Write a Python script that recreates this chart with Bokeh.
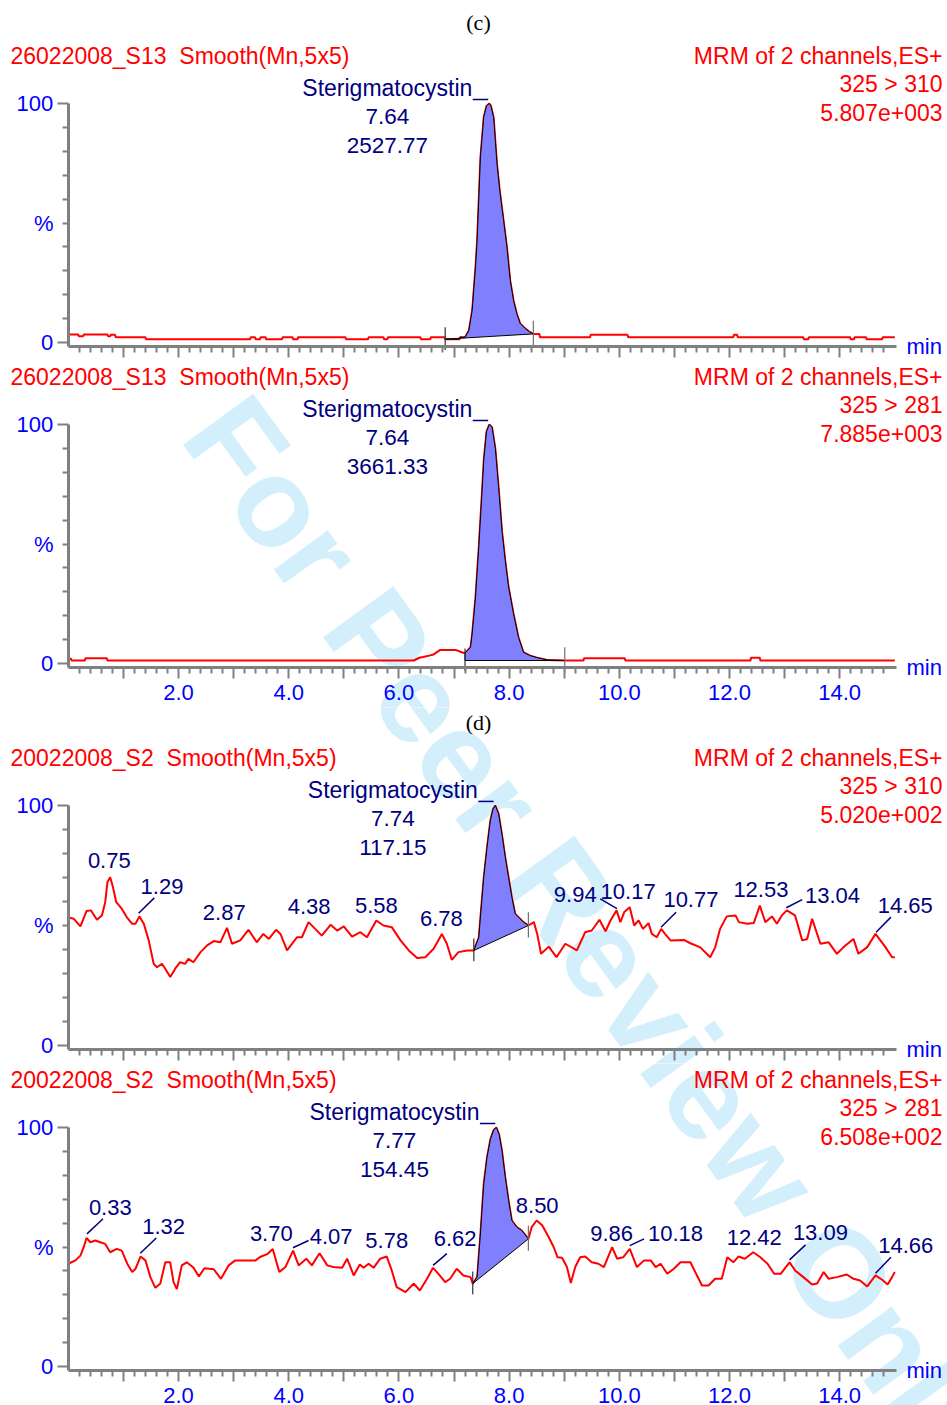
import math
from bokeh.plotting import figure
from bokeh.models import ColumnDataSource, Label, LabelSet, FixedTicker, Range1d
from bokeh.layouts import column
from bokeh.embed import file_html
from bokeh.resources import INLINE
from bokeh.core.properties import value

# ------------------------------------------------------------------ data
# (c) sample 26022008_S13, channel 325 > 310   (time min, intensity %)
s13_310_trace = [
    (0.02, 3.3), (0.18, 3.3), (0.19, 2.6), (0.27, 2.6), (0.28, 3.3), (0.71, 3.3), (0.72, 2.6),
    (0.76, 2.6), (0.77, 3.2), (0.85, 3.2), (0.86, 2.2), (1.40, 2.2), (1.41, 1.4), (3.30, 1.4),
    (3.31, 2.2), (3.39, 2.2), (3.40, 1.4), (3.48, 1.4), (3.49, 2.2), (3.58, 2.2), (3.59, 1.4),
    (3.88, 1.4), (3.89, 2.2), (4.07, 2.2), (4.08, 1.4), (4.16, 1.4), (4.17, 2.2), (5.03, 2.2),
    (5.04, 1.4), (5.44, 1.4), (5.45, 2.2), (5.72, 2.2), (5.73, 1.4), (5.79, 1.4), (5.80, 2.2),
    (6.39, 2.2), (6.40, 1.4), (6.57, 1.4), (6.58, 2.2), (6.83, 2.2), (6.84, 1.4), (7.10, 1.4),
    (7.11, 2.2), (7.20, 2.2), (7.27, 5.0), (7.33, 13.4), (7.39, 31.5), (7.42, 42.7), (7.48, 77.5),
    (7.54, 94.3), (7.59, 99.0), (7.64, 100.0), (7.67, 99.0), (7.72, 94.0), (7.78, 74.8),
    (7.83, 63.6), (7.90, 51.0), (7.96, 40.0), (8.02, 26.0), (8.08, 17.6), (8.14, 12.0),
    (8.20, 8.0), (8.29, 5.9), (8.38, 4.3), (8.44, 3.6), (8.55, 3.6), (8.56, 2.2), (9.47, 2.2),
    (9.48, 3.2), (10.15, 3.2), (10.16, 2.2), (12.07, 2.2), (12.08, 3.2), (12.14, 3.2),
    (12.15, 2.2), (13.34, 2.2), (13.35, 1.4), (13.43, 1.4), (13.44, 2.2), (14.19, 2.2),
    (14.20, 1.4), (14.26, 1.4), (14.27, 2.2), (14.48, 2.2), (14.49, 1.4), (14.77, 1.4),
    (14.78, 2.2), (15.0, 2.2),
]

# (c) sample 26022008_S13, channel 325 > 281
s13_281_trace = [
    (0.02, 2.0), (0.05, 2.0), (0.06, 1.25), (0.30, 1.25), (0.31, 2.2), (0.70, 2.2), (0.71, 1.25),
    (6.27, 1.25), (6.37, 2.4), (6.44, 2.7), (6.55, 3.3), (6.63, 3.8), (6.75, 5.7), (7.03, 5.7),
    (7.14, 4.7), (7.20, 4.3), (7.30, 6.8), (7.33, 12.4), (7.39, 27.7), (7.45, 48.7), (7.51, 72.4),
    (7.54, 85.0), (7.59, 97.0), (7.64, 100.0), (7.69, 98.9), (7.75, 90.0), (7.81, 73.5),
    (7.87, 55.6), (7.93, 43.0), (7.99, 32.0), (8.08, 20.8), (8.17, 11.0), (8.26, 4.7), (8.38, 3.3),
    (8.51, 2.4), (8.69, 1.5), (9.01, 1.25), (9.35, 1.25), (9.36, 2.2), (10.10, 2.2), (10.11, 1.25),
    (12.38, 1.25), (12.39, 2.4), (12.55, 2.4), (12.56, 1.25), (15.0, 1.25),
]

# (d) sample 20022008_S2, channel 325 > 310
s2_310_trace = [
    (0.02, 53.2), (0.10, 52.8), (0.22, 49.6), (0.33, 56.0), (0.41, 56.3), (0.52, 52.4), (0.61, 54.2),
    (0.67, 59.7), (0.71, 68.0), (0.76, 70.1), (0.81, 66.0), (0.87, 59.7), (0.97, 57.0), (1.06, 53.5),
    (1.16, 50.7), (1.22, 50.7), (1.29, 53.8), (1.37, 50.7), (1.46, 43.8), (1.55, 34.0), (1.61, 32.6),
    (1.70, 34.0), (1.76, 32.0), (1.85, 28.5), (1.94, 32.0), (2.03, 34.7), (2.12, 34.0), (2.18, 36.1),
    (2.27, 34.7), (2.40, 38.9), (2.52, 41.7), (2.64, 43.5), (2.76, 43.0), (2.83, 46.5), (2.88, 49.0),
    (2.97, 42.4), (3.12, 43.8), (3.27, 48.2), (3.42, 43.0), (3.54, 46.5), (3.64, 44.4), (3.77, 48.2),
    (3.85, 46.5), (3.97, 39.6), (4.08, 43.0), (4.15, 45.1), (4.24, 45.1), (4.36, 51.4), (4.48, 48.6),
    (4.60, 45.8), (4.76, 50.3), (4.88, 47.9), (5.00, 49.6), (5.15, 45.4), (5.30, 47.2), (5.42, 45.1),
    (5.59, 52.1), (5.72, 50.0), (5.87, 49.3), (6.03, 43.8), (6.18, 39.6), (6.33, 36.5), (6.48, 36.8),
    (6.63, 40.3), (6.78, 46.5), (6.87, 42.4), (6.96, 35.7), (7.08, 38.9), (7.24, 39.6), (7.36, 39.6),
    (7.45, 45.0), (7.48, 53.5), (7.54, 70.0), (7.60, 82.6), (7.66, 93.8), (7.71, 98.6), (7.75, 100.0),
    (7.81, 96.5), (7.87, 88.0), (7.93, 78.5), (7.99, 70.0), (8.05, 61.8), (8.11, 54.9), (8.17, 53.5),
    (8.26, 51.4), (8.35, 50.0), (8.45, 51.4), (8.51, 46.5), (8.58, 38.2), (8.72, 41.2), (8.86, 36.8),
    (9.02, 42.4), (9.23, 39.6), (9.38, 47.2), (9.50, 47.9), (9.64, 52.4), (9.75, 47.6), (9.84, 52.1),
    (9.95, 56.3), (10.02, 51.4), (10.09, 55.6), (10.19, 57.6), (10.27, 50.0), (10.35, 52.1),
    (10.43, 48.6), (10.53, 51.0), (10.59, 46.5), (10.68, 45.1), (10.76, 48.6), (10.83, 46.5),
    (10.93, 43.8), (11.17, 44.0), (11.29, 42.6), (11.47, 40.9), (11.65, 36.8), (11.74, 40.9),
    (11.83, 48.6), (11.95, 53.8), (12.11, 54.2), (12.17, 51.4), (12.32, 50.7), (12.44, 51.0),
    (12.55, 58.3), (12.65, 51.4), (12.77, 53.8), (12.86, 50.7), (12.95, 54.2), (13.04, 56.3),
    (13.19, 54.2), (13.32, 43.8), (13.41, 44.4), (13.50, 52.8), (13.56, 48.6), (13.65, 42.4),
    (13.80, 43.0), (13.95, 38.2), (14.07, 41.0), (14.25, 44.4), (14.34, 38.2), (14.50, 41.0),
    (14.65, 46.5), (14.83, 41.0), (14.95, 36.8), (15.0, 36.8),
]

# (d) sample 20022008_S2, channel 325 > 281
s2_281_trace = [
    (0.02, 43.2), (0.13, 44.4), (0.22, 46.4), (0.28, 49.9), (0.33, 53.8), (0.40, 52.0), (0.49, 52.7),
    (0.58, 52.0), (0.67, 51.3), (0.76, 47.8), (0.88, 49.2), (0.97, 48.5), (1.07, 43.0), (1.16, 39.5),
    (1.22, 40.9), (1.31, 46.0), (1.40, 44.4), (1.49, 37.4), (1.58, 32.9), (1.67, 34.7), (1.76, 43.6),
    (1.85, 43.6), (1.91, 35.3), (1.97, 32.4), (2.06, 42.3), (2.15, 43.6), (2.27, 41.4), (2.37, 37.7),
    (2.47, 41.1), (2.64, 40.7), (2.77, 36.7), (2.91, 42.3), (3.03, 44.4), (3.40, 44.4), (3.48, 45.8),
    (3.61, 47.0), (3.71, 49.2), (3.83, 39.5), (3.94, 41.6), (4.08, 48.5), (4.18, 42.3), (4.32, 45.1),
    (4.42, 42.3), (4.56, 47.4), (4.70, 42.3), (4.81, 41.6), (4.97, 41.3), (5.06, 45.1), (5.18, 38.1),
    (5.29, 42.7), (5.36, 41.3), (5.45, 43.0), (5.54, 41.3), (5.66, 45.1), (5.78, 46.0), (5.87, 40.2),
    (5.96, 33.2), (6.12, 31.1), (6.27, 34.7), (6.38, 31.8), (6.51, 36.7), (6.62, 41.3), (6.74, 38.1),
    (6.84, 35.3), (6.93, 36.7), (7.05, 40.9), (7.17, 38.1), (7.30, 37.4), (7.34, 34.7), (7.42, 37.4),
    (7.48, 55.5), (7.54, 76.4), (7.60, 87.6), (7.66, 95.0), (7.72, 99.0), (7.77, 100.0), (7.82, 97.0),
    (7.87, 90.4), (7.93, 79.2), (7.99, 69.5), (8.05, 61.1), (8.14, 58.3), (8.23, 56.9), (8.35, 53.4),
    (8.41, 58.3), (8.50, 61.1), (8.60, 59.1), (8.72, 54.1), (8.81, 49.9), (8.88, 45.7), (8.96, 45.5),
    (9.05, 41.6), (9.12, 34.9), (9.20, 41.6), (9.29, 45.7), (9.38, 46.0), (9.50, 43.6), (9.62, 43.0),
    (9.72, 41.6), (9.87, 49.9), (9.96, 45.1), (10.07, 45.7), (10.19, 49.2), (10.32, 41.6),
    (10.45, 44.4), (10.57, 44.4), (10.66, 41.6), (10.75, 43.0), (10.87, 38.8), (10.99, 40.9),
    (11.11, 43.6), (11.29, 43.6), (11.41, 38.1), (11.50, 33.9), (11.62, 33.9), (11.74, 36.7),
    (11.86, 36.7), (11.96, 45.7), (12.07, 43.6), (12.16, 46.0), (12.28, 45.1), (12.43, 47.8),
    (12.56, 45.7), (12.69, 43.0), (12.81, 38.8), (12.93, 38.8), (13.09, 43.6), (13.19, 40.2),
    (13.34, 37.4), (13.50, 34.3), (13.59, 34.7), (13.71, 39.5), (13.80, 36.7), (13.95, 37.4),
    (14.13, 38.5), (14.25, 36.7), (14.37, 36.0), (14.50, 33.5), (14.65, 38.1), (14.77, 36.3),
    (14.87, 34.3), (14.95, 37.4), (15.0, 39.5),
]

# integration (start time, start baseline %, end time, end baseline %)
s13_310_integration = (6.84, 1.4, 8.44, 3.6)
s13_281_integration = (7.20, 1.25, 9.01, 1.25)
s2_310_integration = (7.36, 39.6, 8.35, 50.0)
s2_281_integration = (7.34, 34.7, 8.35, 53.4)

# labelled noise peaks: text, label x, label y
s2_310_peak_labels = [
    ("0.75", 0.744, 77.1), ("1.29", 1.70, 66.3), ("2.87", 2.83, 55.4), ("4.38", 4.37, 57.9),
    ("5.58", 5.59, 58.3), ("6.78", 6.77, 52.9), ("9.94", 9.20, 62.8), ("10.17", 10.16, 64.3),
    ("10.77", 11.30, 60.8), ("12.53", 12.57, 64.9), ("13.04", 13.87, 62.5), ("14.65", 15.19, 58.3),
]
s2_310_leaders = [  # x0, y0, x1, y1
    (1.276, 55.1, 1.561, 61.5), (9.655, 61.1, 9.958, 57.0), (10.757, 49.3, 11.03, 55.5),
    (13.03, 57.4, 13.32, 60.8), (14.66, 47.2, 14.93, 53.5),
]
s2_281_peak_labels = [
    ("0.33", 0.762, 66.7), ("1.32", 1.73, 58.6), ("3.70", 3.684, 55.5), ("4.07", 4.77, 54.4),
    ("5.78", 5.78, 52.7), ("6.62", 7.02, 53.4), ("8.50", 8.51, 67.4), ("9.86", 9.86, 55.8),
    ("10.18", 11.02, 55.5), ("12.42", 12.45, 53.8), ("13.09", 13.65, 56.2), ("14.66", 15.20, 50.6),
]
s2_281_leaders = [
    (0.339, 55.5, 0.63, 61.8), (1.307, 47.4, 1.597, 53.8), (4.078, 49.7, 4.36, 52.7),
    (6.62, 42.3, 6.87, 47.2), (10.19, 50.6, 10.45, 53.4), (13.09, 44.6, 13.38, 50.9),
    (14.65, 39.0, 14.93, 45.7),
]

panels = [
    dict(sample="26022008_S13", transition="325 > 310", intensity="5.807e+003",
         trace=s13_310_trace, rt="7.64", area="2527.77", integ=s13_310_integration,
         labels=[], leaders=[], tick_labels=False, caption="(c)"),
    dict(sample="26022008_S13", transition="325 > 281", intensity="7.885e+003",
         trace=s13_281_trace, rt="7.64", area="3661.33", integ=s13_281_integration,
         labels=[], leaders=[], tick_labels=True, caption=None),
    dict(sample="20022008_S2", transition="325 > 310", intensity="5.020e+002",
         trace=s2_310_trace, rt="7.74", area="117.15", integ=s2_310_integration,
         labels=s2_310_peak_labels, leaders=s2_310_leaders, tick_labels=False, caption="(d)"),
    dict(sample="20022008_S2", transition="325 > 281", intensity="6.508e+002",
         trace=s2_281_trace, rt="7.77", area="154.45", integ=s2_281_integration,
         labels=s2_281_peak_labels, leaders=s2_281_leaders, tick_labels=True, caption=None),
]
COMPOUND = "Sterigmatocystin"

# ------------------------------------------------------------------ layout / style
W = 947
X0_PX = 67.8          # pixel of t = 0
PXM = 55.1            # pixels per minute
geo = [  # page-pixel geometry of each panel
    dict(top=0, height=362, y0=342, axis=346, s=2.39, cap_y=22),
    dict(top=362, height=345, y0=663, axis=667, s=2.39, cap_y=None),
    dict(top=707, height=356, y0=1045, axis=1049, s=2.40, cap_y=722),
    dict(top=1063, height=342, y0=1366, axis=1370, s=2.39, cap_y=None),
]
RED, BLUE, NAVY, GREY = "#ff0000", "#0000ff", "#000080", "#808080"
FILL = "#8080ff"
WM_COLOR = "#d3effb"
SANS, SERIF = "Liberation Sans", "Liberation Serif"
WM_X, WM_Y, WM_ANGLE, WM_SIZE = 213, 412, -54.0, "126px"


def px_to_min(px):
    return (px - X0_PX) / PXM


def build(d, g):
    s = g["s"]
    ylo = (g["y0"] - (g["top"] + g["height"])) / s
    yhi = (g["y0"] - g["top"]) / s
    y_axis_pos = (g["y0"] - g["axis"]) / s
    p = figure(width=W, height=g["height"], x_range=Range1d(px_to_min(0), px_to_min(W)),
               y_range=Range1d(ylo, yhi), output_backend="svg", toolbar_location=None,
               min_border_left=0, min_border_right=0, min_border_top=0, min_border_bottom=0)
    p.grid.visible = False
    p.outline_line_color = None
    p.background_fill_color = "white"
    p.border_fill_color = "white"

    # watermark (continuous across panels)
    p.add_layout(Label(x=px_to_min(WM_X), y=(g["y0"] - WM_Y) / s, text="For Peer Review Only",
                       angle=math.radians(WM_ANGLE), angle_units="rad", text_font=SANS,
                       text_font_style="bold", text_font_size=WM_SIZE, text_color=WM_COLOR,
                       text_align="left", text_baseline="alphabetic", level="underlay"))

    xa, ya = p.xaxis[0], p.yaxis[0]
    ya.fixed_location = 0
    xa.fixed_location = y_axis_pos
    ya.ticker = FixedTicker(ticks=[0, 100], minor_ticks=list(range(10, 100, 10)))
    ya.bounds = (y_axis_pos, 100)
    xa.ticker = FixedTicker(ticks=list(range(1, 15)),
                            minor_ticks=[round(k * 0.2, 1) for k in range(1, 75) if k % 5])
    xa.bounds = (0, 15.03)
    for ax in (xa, ya):
        ax.axis_line_color = GREY
        ax.axis_line_width = 3
        ax.major_tick_line_color = GREY
        ax.minor_tick_line_color = GREY
        ax.major_tick_line_width = 2
        ax.minor_tick_line_width = 2
        ax.major_tick_in = 0
        ax.minor_tick_in = 0
        ax.major_tick_out = 11
        ax.minor_tick_out = 6
        ax.major_label_text_color = BLUE
        ax.major_label_text_font = SANS
        ax.major_label_text_font_size = "22px"
    ya.major_label_standoff = 4
    xa.major_label_standoff = 6
    if d["tick_labels"]:
        xa.major_label_overrides = {k: (f"{k:.1f}" if k % 2 == 0 else "") for k in range(1, 15)}
    else:
        xa.major_label_overrides = {k: "" for k in range(1, 15)}
        xa.major_label_text_font_size = "0px"

    # trace
    tt = [t for t, _ in d["trace"]]
    vv = [v for _, v in d["trace"]]
    p.line(tt, vv, line_color=RED, line_width=2)

    # integrated peak
    ts, bs, te, be = d["integ"]
    seg = [(t, v) for t, v in d["trace"] if ts <= t <= te]
    px = [t for t, _ in seg] + [te, ts]
    py = [v for _, v in seg] + [be, bs]
    p.patch(px, py, fill_color=FILL, line_color="black", line_width=1)
    p.segment(x0=[ts], y0=[bs - 4.5], x1=[ts], y1=[bs + 5.0], line_color="#303030", line_width=1.2)
    p.segment(x0=[te], y0=[be - 5.0], x1=[te], y1=[be + 5.5], line_color="#707070", line_width=1.2)

    # peak annotation
    apex = float(d["rt"])
    cx = apex - 1.85
    ann = ColumnDataSource(dict(x=[cx, cx, cx], y=[106.3, 94.6, 82.6],
                                text=[COMPOUND, d["rt"], d["area"]],
                                size=["23px", "22.5px", "22.5px"]))
    p.add_layout(LabelSet(x="x", y="y", text="text", source=ann, text_align="center",
                          text_baseline="middle", text_font=value(SANS), text_font_size="size",
                          text_color=NAVY))
    p.segment(x0=[cx + 1.55], y0=[101.7], x1=[apex - 0.02], y1=[101.7], line_color=NAVY,
              line_width=1.5)

    # noise peak labels
    if d["labels"]:
        src = ColumnDataSource(dict(x=[l[1] for l in d["labels"]], y=[l[2] for l in d["labels"]],
                                    text=[l[0] for l in d["labels"]]))
        p.add_layout(LabelSet(x="x", y="y", text="text", source=src, text_align="center",
                              text_baseline="middle", text_font=value(SANS),
                              text_font_size=value("22px"), text_color=NAVY))
        p.segment(x0=[l[0] for l in d["leaders"]], y0=[l[1] for l in d["leaders"]],
                  x1=[l[2] for l in d["leaders"]], y1=[l[3] for l in d["leaders"]],
                  line_color=NAVY, line_width=1.5)

    # header texts
    def lab(x, y, text, color, align, size="23px", font=SANS):
        p.add_layout(Label(x=x, y=y, text=text, text_color=color, text_align=align,
                           text_baseline="middle", text_font=font, text_font_size=size))

    lab(px_to_min(10), 120.0, f"{d['sample']}\u00a0\u00a0Smooth(Mn,5x5)", RED, "left")
    lab(px_to_min(942), 120.0, "MRM of 2 channels,ES+", RED, "right")
    lab(px_to_min(942), 108.0, d["transition"], RED, "right")
    lab(px_to_min(942), 96.2, d["intensity"], RED, "right")
    lab(px_to_min(53), 50.0, "%", BLUE, "right", size="22px")
    lab(px_to_min(906), y_axis_pos, "min", BLUE, "left", size="22px")
    if d["caption"]:
        lab(px_to_min(478), (g["y0"] - g["cap_y"]) / s, d["caption"], "black", "center",
            size="22px", font=SERIF)
    return p


figs = [build(d, g) for d, g in zip(panels, geo)]
page = column(*figs, spacing=0)
open("out.html", "w").write(file_html(page, INLINE))
